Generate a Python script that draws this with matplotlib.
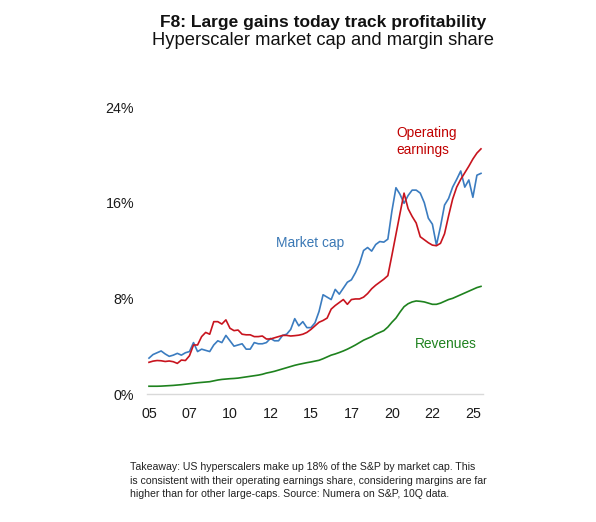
import matplotlib
matplotlib.use('Agg')
import matplotlib.pyplot as plt
import pandas as pd

# quarterly shares of S&P 500, %, 2005Q1 .. 2025Q3
market_cap = [
    3.0, 3.3, 3.45, 3.6, 3.35, 3.15, 3.25, 3.4, 3.25, 3.45,
    3.55, 4.3, 3.55, 3.75, 3.65, 3.55, 4.1, 4.45, 4.3, 4.9,
    4.45, 4.0, 4.1, 4.2, 3.75, 3.75, 4.3, 4.2, 4.2, 4.3,
    4.65, 4.45, 4.45, 4.9, 5.0, 5.4, 6.3, 5.7, 6.05, 5.55,
    5.55, 5.95, 6.9, 8.3, 8.1, 7.9, 8.75, 8.35, 8.85, 9.35,
    9.55, 10.15, 10.9, 12.0, 12.25, 11.95, 12.5, 12.75, 12.7, 12.95,
    15.3, 17.25, 16.7, 15.95, 16.6, 17.05, 17.05, 16.8, 16.0, 14.7,
    14.2, 12.45, 14.0, 15.8, 16.35, 17.3, 17.95, 18.65, 17.3, 17.9,
    16.45, 18.3, 18.45,
]
operating_earnings = [
    2.65, 2.75, 2.8, 2.78, 2.72, 2.76, 2.7, 2.56, 2.84, 2.8,
    3.2, 4.1, 4.1, 4.8, 5.15, 5.0, 6.05, 6.05, 5.85, 6.2,
    5.5, 5.3, 5.35, 5.0, 4.95, 4.95, 4.8, 4.8, 4.85, 4.6,
    4.6, 4.7, 4.8, 4.9, 4.9, 4.85, 4.88, 4.92, 5.0, 5.15,
    5.4, 5.7, 6.0, 6.15, 6.35, 7.1, 7.4, 7.65, 7.9, 7.5,
    7.9, 7.95, 7.95, 8.1, 8.4, 8.8, 9.1, 9.35, 9.6, 9.9,
    11.6, 13.35, 15.1, 16.8, 15.5, 14.85, 14.3, 13.15, 12.9, 12.65,
    12.45, 12.4, 12.6, 13.4, 14.9, 16.3, 17.3, 17.95, 18.5, 19.05,
    19.65, 20.15, 20.5,
]
revenues = [
    0.65, 0.65, 0.65, 0.66, 0.68, 0.7, 0.72, 0.75, 0.78, 0.82,
    0.86, 0.9, 0.94, 0.97, 1.0, 1.03, 1.1, 1.17, 1.22, 1.25,
    1.28, 1.3, 1.33, 1.38, 1.43, 1.48, 1.53, 1.58, 1.65, 1.75,
    1.82, 1.9, 2.0, 2.1, 2.2, 2.3, 2.4, 2.48, 2.55, 2.62,
    2.68, 2.75, 2.82, 2.95, 3.1, 3.25, 3.35, 3.47, 3.6, 3.75,
    3.92, 4.1, 4.3, 4.5, 4.65, 4.8, 5.0, 5.15, 5.3, 5.6,
    6.0, 6.35, 6.85, 7.3, 7.55, 7.7, 7.78, 7.75, 7.7, 7.6,
    7.5, 7.5, 7.6, 7.75, 7.9, 8.0, 8.15, 8.3, 8.45, 8.6,
    8.75, 8.9, 9.0,
]
quarters = pd.period_range('2005Q1', periods=len(market_cap), freq='Q')
y_ticks = [0, 8, 16, 24]

BLUE, RED, GREEN = '#3B7CC0', '#C8141E', '#1E821E'

plt.rcParams['font.family'] = ['Liberation Sans', 'DejaVu Sans']

fig = plt.figure(figsize=(5.96, 5.22), dpi=100)
ax = fig.add_axes([0.2461, 0.2452, 0.5643, 0.5498])

x = range(len(quarters))
ax.plot(x, market_cap, color=BLUE, lw=1.2)
ax.plot(x, operating_earnings, color=RED, lw=1.2)
ax.plot(x, revenues, color=GREEN, lw=1.2)

ax.set_xlim(-0.57, 82.5)
ax.set_ylim(0, 24)
tick_pos = list(range(0, len(quarters), 10))
ax.set_xticks(tick_pos)
ax.set_xticklabels([f"{quarters[i].year % 100:02d}" for i in tick_pos])
ax.set_yticks(y_ticks)
ax.set_yticklabels([f"{v}%" for v in y_ticks])
ax.tick_params(axis='both', length=0, labelsize=10.3, colors='#1a1a1a')
ax.tick_params(axis='y', pad=9)
ax.tick_params(axis='x', pad=9)
for s in ['left', 'right', 'top']:
    ax.spines[s].set_visible(False)
ax.spines['bottom'].set_color('#D9D9D9')
ax.spines['bottom'].set_linewidth(1.0)

# series labels
ax.text(31.4, 12.3, 'Market cap', color='#3A78B5', fontsize=9.9,
        ha='left', va='baseline')
ax.text(61.2, 21.5, 'Operating', color='#C00000', fontsize=9.9,
        ha='left', va='baseline')
ax.text(61.2, 20.1, 'earnings', color='#C00000', fontsize=9.9,
        ha='left', va='baseline')
ax.text(65.7, 3.85, 'Revenues', color='#1E821E', fontsize=9.9,
        ha='left', va='baseline')

H = 522.0
fig.text(0.542, 1 - 27 / H, 'F8: Large gains today track profitability',
         fontsize=12.5, fontweight='bold', ha='center', va='baseline',
         color='#111111')
fig.text(0.542, 1 - 45 / H, 'Hyperscaler market cap and margin share',
         fontsize=13.2, ha='center', va='baseline', color='#111111')

notes = [
    'Takeaway: US hyperscalers make up 18% of the S&P by market cap. This',
    'is consistent with their operating earnings share, considering margins are far',
    'higher than for other large-caps. Source: Numera on S&P, 10Q data.',
]
for i, line in enumerate(notes):
    fig.text(130 / 596, 1 - (470 + 13.5 * i) / H, line, fontsize=7.6,
             ha='left', va='baseline', color='#222222')

fig.savefig('out.png', dpi=100)
